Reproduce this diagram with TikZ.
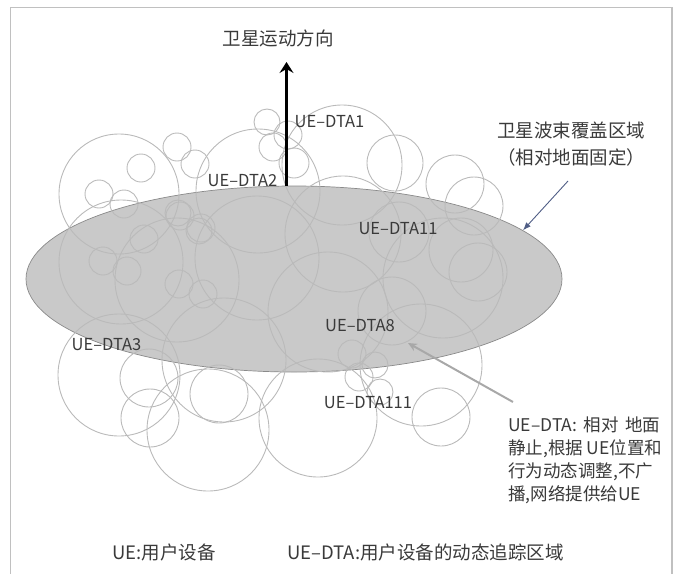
\documentclass[tikz,border=0pt]{standalone}
\usepackage{fontspec}
\setmainfont{Noto Sans CJK SC}
\usetikzlibrary{arrows.meta,shapes.geometric}
\definecolor{txt}{HTML}{3A3A3A}
\definecolor{ringc}{HTML}{BABABA}
\definecolor{beamfill}{HTML}{C9C9C9}
\definecolor{beamedge}{HTML}{8A8A8A}
\definecolor{framec}{HTML}{C0C0C0}
\definecolor{bluearrow}{HTML}{4F5D85}
\definecolor{grayarrow}{HTML}{A8A8A8}
\begin{document}
\begin{tikzpicture}[x=1pt,y=-1pt,
  dta/.style={font=\fontsize{16.5}{18}\selectfont, text=txt, inner sep=0pt},
  cjk/.style={font=\fontsize{18.5}{27}\selectfont, text=txt, inner sep=0pt},
  note/.style={font=\fontsize{17.5}{23.2}\selectfont, text=txt, inner sep=0pt},
  ring/.style={draw=ringc, line width=0.9pt},
  frameline/.style={draw=framec, line width=1.4pt}]
\useasboundingbox (0,0) rectangle (677,573);
\draw[frameline] (10.5,580) -- (10.5,7.5) -- (672,7.5) -- (672,580);

\node[ellipse, draw=beamedge, line width=0.7pt, fill=beamfill,
      minimum width=536pt, minimum height=186pt, inner sep=0pt] (beam) at (294,279) {};

\foreach \cx/\cy/\r in {
  119/194/60, 141/168/14, 99/194/14, 124/204/14, 177/147/14, 195/164/14,
  258/191/62, 267/122/13, 288/135/14, 273/147/14, 294/163/15,
  342/165/60, 395/163/28, 455/184/29, 474/206/29,
  121/262/62, 177/280/62, 257/258/62, 343/234/58, 328/312/60, 392/311/34,
  399/232/30, 443/278/60, 461/250/32, 478/272/29,
  144/239/14, 103/261/14, 127/271/14, 179/284/14, 203/294/14,
  180/216/14, 178/213/13, 201/228/14, 199/231/13, 352/354/14, 375/365/13,
  119/375/61, 149/378/29, 150/418/29, 224/360/62, 219/394/29, 208/430/61,
  318/418/59, 421/365/61, 441/417/29, 359/377/14, 380/392/13}
  \draw[ring] (\cx,\cy) circle[radius=\r pt];

% satellite direction
\node[cjk] (dirtext) at (278,38.5) {卫星运动方向};
\coordinate (dirbase) at (286.5,186);
\coordinate (dirtip) at (286.5,62);
\draw[line width=3pt, -{Stealth[length=11pt,width=14pt,inset=4pt]}] (dirbase) -- (dirtip);

% labels
\node[dta] (l1) at (329.5,122) {UE–DTA1};
\node[dta] (l2) at (242.5,181) {UE–DTA2};
\node[dta] (l11) at (398,229) {UE–DTA11};
\node[dta] (l8) at (360,326) {UE–DTA8};
\node[dta] (l3) at (106.5,344.5) {UE–DTA3};
\node[dta] (l111) at (368,403) {UE–DTA111};

% beam label
\node[cjk, align=center] (beamtext) at (571,144.5) {卫星波束覆盖区域\\（相对地面固定）};
\coordinate (beamstart) at (568,181);
\draw[bluearrow, line width=0.9pt, -{Latex[length=8pt,width=6pt]}] (beamstart) -- (beam.12.3);

% DTA note
\node[note, anchor=west, align=left] (notetext) at (508,460.25)
  {\makebox[152pt][s]{UE–DTA: 相对 地面}\\静止,根据 UE位置和\\行为动态调整,不广\\播,网络提供给UE};
\coordinate (notestart) at (513,402);
\coordinate (notetip) at (408,343);
\draw[grayarrow, line width=2pt, -{Stealth[length=9pt,width=8pt]}] (notestart) -- (notetip);

% legend
\node[cjk, anchor=west] (leg1) at (112,552) {UE:用户设备};
\node[cjk, anchor=west] (leg2) at (287,552) {UE–DTA:用户设备的动态追踪区域};
\end{tikzpicture}
\end{document}
